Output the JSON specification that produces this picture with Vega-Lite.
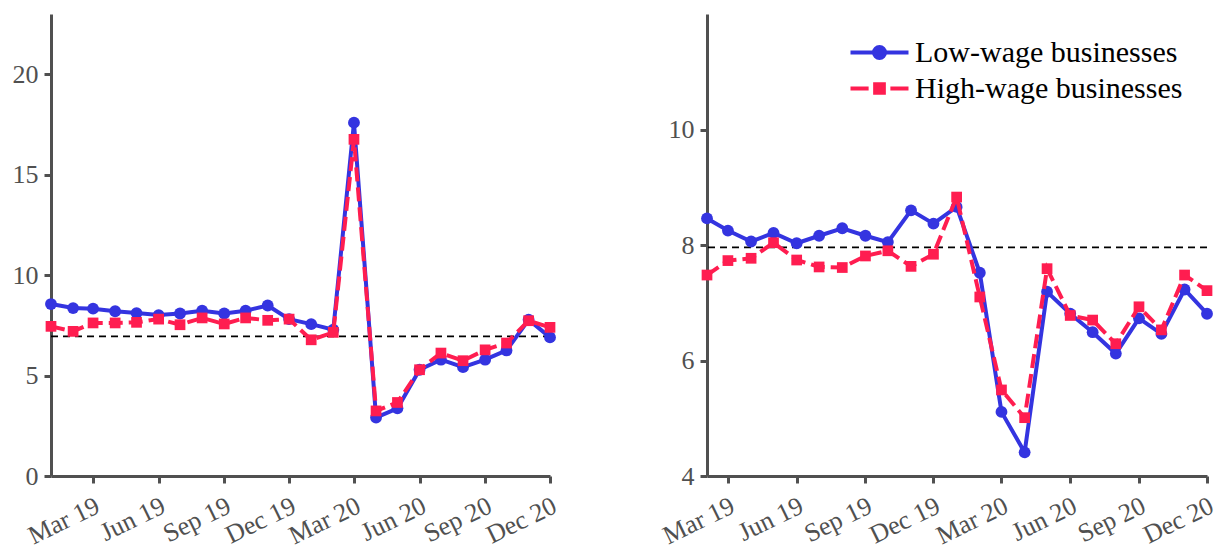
{
  "$schema": "https://vega.github.io/schema/vega-lite/v6.json",
  "background": "white",
  "padding": {"left": 12, "top": 14, "right": 2, "bottom": 0},
  "bounds": "flush",
  "spacing": 157,
  "resolve": {"scale": {"color": "independent"}, "legend": {"color": "independent"}},
  "config": {
    "font": "Liberation Serif",
    "view": {"stroke": null},
    "axis": {
      "domainColor": "#505050", "domainWidth": 3, "tickColor": "#505050", "tickWidth": 3, "tickSize": 7,
      "labelColor": "#505050", "labelFont": "Liberation Serif", "labelFontSize": 26, "grid": false, "title": null,
      "labelPadding": 6, "labelFlush": false, "labelOverlap": false
    },
    "axisY": {"format": "d"}
  },
  "datasets": {
    "left": [
      {"month": "2019-01-01", "series": "Low-wage businesses", "value": 8.56},
      {"month": "2019-02-01", "series": "Low-wage businesses", "value": 8.36},
      {"month": "2019-03-01", "series": "Low-wage businesses", "value": 8.33},
      {"month": "2019-04-01", "series": "Low-wage businesses", "value": 8.2},
      {"month": "2019-05-01", "series": "Low-wage businesses", "value": 8.11},
      {"month": "2019-06-01", "series": "Low-wage businesses", "value": 8.01},
      {"month": "2019-07-01", "series": "Low-wage businesses", "value": 8.09},
      {"month": "2019-08-01", "series": "Low-wage businesses", "value": 8.23},
      {"month": "2019-09-01", "series": "Low-wage businesses", "value": 8.09},
      {"month": "2019-10-01", "series": "Low-wage businesses", "value": 8.23},
      {"month": "2019-11-01", "series": "Low-wage businesses", "value": 8.49},
      {"month": "2019-12-01", "series": "Low-wage businesses", "value": 7.81},
      {"month": "2020-01-01", "series": "Low-wage businesses", "value": 7.56},
      {"month": "2020-02-01", "series": "Low-wage businesses", "value": 7.28},
      {"month": "2020-03-01", "series": "Low-wage businesses", "value": 17.59},
      {"month": "2020-04-01", "series": "Low-wage businesses", "value": 2.91},
      {"month": "2020-05-01", "series": "Low-wage businesses", "value": 3.37},
      {"month": "2020-06-01", "series": "Low-wage businesses", "value": 5.29},
      {"month": "2020-07-01", "series": "Low-wage businesses", "value": 5.79},
      {"month": "2020-08-01", "series": "Low-wage businesses", "value": 5.42},
      {"month": "2020-09-01", "series": "Low-wage businesses", "value": 5.79},
      {"month": "2020-10-01", "series": "Low-wage businesses", "value": 6.25},
      {"month": "2020-11-01", "series": "Low-wage businesses", "value": 7.78},
      {"month": "2020-12-01", "series": "Low-wage businesses", "value": 6.9},
      {"month": "2019-01-01", "series": "High-wage businesses", "value": 7.45},
      {"month": "2019-02-01", "series": "High-wage businesses", "value": 7.2},
      {"month": "2019-03-01", "series": "High-wage businesses", "value": 7.62},
      {"month": "2019-04-01", "series": "High-wage businesses", "value": 7.62},
      {"month": "2019-05-01", "series": "High-wage businesses", "value": 7.65},
      {"month": "2019-06-01", "series": "High-wage businesses", "value": 7.81},
      {"month": "2019-07-01", "series": "High-wage businesses", "value": 7.53},
      {"month": "2019-08-01", "series": "High-wage businesses", "value": 7.87},
      {"month": "2019-09-01", "series": "High-wage businesses", "value": 7.57},
      {"month": "2019-10-01", "series": "High-wage businesses", "value": 7.87},
      {"month": "2019-11-01", "series": "High-wage businesses", "value": 7.75},
      {"month": "2019-12-01", "series": "High-wage businesses", "value": 7.81},
      {"month": "2020-01-01", "series": "High-wage businesses", "value": 6.78},
      {"month": "2020-02-01", "series": "High-wage businesses", "value": 7.15},
      {"month": "2020-03-01", "series": "High-wage businesses", "value": 16.76},
      {"month": "2020-04-01", "series": "High-wage businesses", "value": 3.24},
      {"month": "2020-05-01", "series": "High-wage businesses", "value": 3.66},
      {"month": "2020-06-01", "series": "High-wage businesses", "value": 5.29},
      {"month": "2020-07-01", "series": "High-wage businesses", "value": 6.12},
      {"month": "2020-08-01", "series": "High-wage businesses", "value": 5.74},
      {"month": "2020-09-01", "series": "High-wage businesses", "value": 6.28},
      {"month": "2020-10-01", "series": "High-wage businesses", "value": 6.62},
      {"month": "2020-11-01", "series": "High-wage businesses", "value": 7.73},
      {"month": "2020-12-01", "series": "High-wage businesses", "value": 7.4}
    ],
    "right": [
      {"month": "2019-02-01", "series": "Low-wage businesses", "value": 8.46},
      {"month": "2019-03-01", "series": "Low-wage businesses", "value": 8.25},
      {"month": "2019-04-01", "series": "Low-wage businesses", "value": 8.06},
      {"month": "2019-05-01", "series": "Low-wage businesses", "value": 8.21},
      {"month": "2019-06-01", "series": "Low-wage businesses", "value": 8.03},
      {"month": "2019-07-01", "series": "Low-wage businesses", "value": 8.16},
      {"month": "2019-08-01", "series": "Low-wage businesses", "value": 8.29},
      {"month": "2019-09-01", "series": "Low-wage businesses", "value": 8.16},
      {"month": "2019-10-01", "series": "Low-wage businesses", "value": 8.05},
      {"month": "2019-11-01", "series": "Low-wage businesses", "value": 8.6},
      {"month": "2019-12-01", "series": "Low-wage businesses", "value": 8.37},
      {"month": "2020-01-01", "series": "Low-wage businesses", "value": 8.66},
      {"month": "2020-02-01", "series": "Low-wage businesses", "value": 7.52},
      {"month": "2020-03-01", "series": "Low-wage businesses", "value": 5.11},
      {"month": "2020-04-01", "series": "Low-wage businesses", "value": 4.41},
      {"month": "2020-05-01", "series": "Low-wage businesses", "value": 7.19},
      {"month": "2020-06-01", "series": "Low-wage businesses", "value": 6.81},
      {"month": "2020-07-01", "series": "Low-wage businesses", "value": 6.49},
      {"month": "2020-08-01", "series": "Low-wage businesses", "value": 6.12},
      {"month": "2020-09-01", "series": "Low-wage businesses", "value": 6.73},
      {"month": "2020-10-01", "series": "Low-wage businesses", "value": 6.46},
      {"month": "2020-11-01", "series": "Low-wage businesses", "value": 7.23},
      {"month": "2020-12-01", "series": "Low-wage businesses", "value": 6.81},
      {"month": "2019-02-01", "series": "High-wage businesses", "value": 7.48},
      {"month": "2019-03-01", "series": "High-wage businesses", "value": 7.73},
      {"month": "2019-04-01", "series": "High-wage businesses", "value": 7.77},
      {"month": "2019-05-01", "series": "High-wage businesses", "value": 8.04},
      {"month": "2019-06-01", "series": "High-wage businesses", "value": 7.74},
      {"month": "2019-07-01", "series": "High-wage businesses", "value": 7.62},
      {"month": "2019-08-01", "series": "High-wage businesses", "value": 7.61},
      {"month": "2019-09-01", "series": "High-wage businesses", "value": 7.81},
      {"month": "2019-10-01", "series": "High-wage businesses", "value": 7.9},
      {"month": "2019-11-01", "series": "High-wage businesses", "value": 7.63},
      {"month": "2019-12-01", "series": "High-wage businesses", "value": 7.84},
      {"month": "2020-01-01", "series": "High-wage businesses", "value": 8.83},
      {"month": "2020-02-01", "series": "High-wage businesses", "value": 7.1},
      {"month": "2020-03-01", "series": "High-wage businesses", "value": 5.49},
      {"month": "2020-04-01", "series": "High-wage businesses", "value": 5.01},
      {"month": "2020-05-01", "series": "High-wage businesses", "value": 7.59},
      {"month": "2020-06-01", "series": "High-wage businesses", "value": 6.78},
      {"month": "2020-07-01", "series": "High-wage businesses", "value": 6.7},
      {"month": "2020-08-01", "series": "High-wage businesses", "value": 6.29},
      {"month": "2020-09-01", "series": "High-wage businesses", "value": 6.93},
      {"month": "2020-10-01", "series": "High-wage businesses", "value": 6.53},
      {"month": "2020-11-01", "series": "High-wage businesses", "value": 7.48},
      {"month": "2020-12-01", "series": "High-wage businesses", "value": 7.21}
    ]
  },
  "hconcat": [
    {
      "width": 499,
      "height": 462,
      "layer": [
        {
          "data": {"values": [{"ref": 6.95}]},
          "mark": {"type": "rule", "color": "black", "strokeWidth": 1.8, "strokeDash": [7, 5]},
          "encoding": {"y": {"field": "ref", "type": "quantitative", "scale": {"domain": [0, 23], "nice": false, "zero": false}, "axis": {"values": [0, 5, 10, 15, 20]}}}
        },
        {
          "data": {"name": "left"},
          "transform": [{"filter": "datum.series == 'Low-wage businesses'"}],
          "mark": {"type": "line", "strokeWidth": 4},
          "encoding": {
            "x": {"field": "month", "type": "temporal", "scale": {"type": "utc", "domain": [{"year": 2019, "month": 1, "date": 1, "utc": true}, {"year": 2020, "month": 12, "date": 1, "utc": true}]},
                  "axis": {"format": "%b %y", "labelAngle": -26, "labelAlign": "right", "labelBaseline": "alphabetic", "labelPadding": 28, "labelOffset": 8,
                           "values": [{"year": 2019, "month": 3, "date": 1, "utc": true}, {"year": 2019, "month": 6, "date": 1, "utc": true}, {"year": 2019, "month": 9, "date": 1, "utc": true}, {"year": 2019, "month": 12, "date": 1, "utc": true}, {"year": 2020, "month": 3, "date": 1, "utc": true}, {"year": 2020, "month": 6, "date": 1, "utc": true}, {"year": 2020, "month": 9, "date": 1, "utc": true}, {"year": 2020, "month": 12, "date": 1, "utc": true}]}},
            "y": {"field": "value", "type": "quantitative"},
            "color": {"field": "series", "type": "nominal", "scale": {"domain": ["Low-wage businesses", "High-wage businesses"], "range": ["#3434e0", "#ff1d50"]}, "legend": null}
          }
        },
        {
          "data": {"name": "left"},
          "transform": [{"filter": "datum.series == 'Low-wage businesses'"}],
          "mark": {"type": "point", "shape": "circle", "filled": true, "size": 140, "opacity": 1},
          "encoding": {
            "x": {"field": "month", "type": "temporal"},
            "y": {"field": "value", "type": "quantitative"},
            "color": {"field": "series", "type": "nominal", "legend": null}
          }
        },
        {
          "data": {"name": "left"},
          "transform": [{"filter": "datum.series == 'High-wage businesses'"}],
          "mark": {"type": "line", "strokeWidth": 4, "strokeDash": [14, 6]},
          "encoding": {
            "x": {"field": "month", "type": "temporal"},
            "y": {"field": "value", "type": "quantitative"},
            "color": {"field": "series", "type": "nominal", "legend": null}
          }
        },
        {
          "data": {"name": "left"},
          "transform": [{"filter": "datum.series == 'High-wage businesses'"}],
          "mark": {"type": "point", "shape": "square", "filled": true, "size": 115, "opacity": 1},
          "encoding": {
            "x": {"field": "month", "type": "temporal"},
            "y": {"field": "value", "type": "quantitative"},
            "color": {"field": "series", "type": "nominal", "legend": null}
          }
        }
      ]
    },
    {
      "width": 500,
      "height": 462,
      "layer": [
        {
          "data": {"values": [{"ref": 7.96}]},
          "mark": {"type": "rule", "color": "black", "strokeWidth": 1.8, "strokeDash": [7, 5]},
          "encoding": {"y": {"field": "ref", "type": "quantitative", "scale": {"domain": [4, 12], "nice": false, "zero": false}, "axis": {"values": [4, 6, 8, 10]}}}
        },
        {
          "data": {"name": "right"},
          "transform": [{"filter": "datum.series == 'Low-wage businesses'"}],
          "mark": {"type": "line", "strokeWidth": 4},
          "encoding": {
            "x": {"field": "month", "type": "temporal", "scale": {"type": "utc", "domain": [{"year": 2019, "month": 2, "date": 1, "utc": true}, {"year": 2020, "month": 12, "date": 1, "utc": true}]},
                  "axis": {"format": "%b %y", "labelAngle": -26, "labelAlign": "right", "labelBaseline": "alphabetic", "labelPadding": 28, "labelOffset": 8,
                           "values": [{"year": 2019, "month": 3, "date": 1, "utc": true}, {"year": 2019, "month": 6, "date": 1, "utc": true}, {"year": 2019, "month": 9, "date": 1, "utc": true}, {"year": 2019, "month": 12, "date": 1, "utc": true}, {"year": 2020, "month": 3, "date": 1, "utc": true}, {"year": 2020, "month": 6, "date": 1, "utc": true}, {"year": 2020, "month": 9, "date": 1, "utc": true}, {"year": 2020, "month": 12, "date": 1, "utc": true}]}},
            "y": {"field": "value", "type": "quantitative"},
            "color": {"field": "series", "type": "nominal", "scale": {"domain": ["Low-wage businesses", "High-wage businesses"], "range": ["#3434e0", "#ff1d50"]},
              "legend": {
                "orient": "none", "legendX": 156, "legendY": 22, "title": null,
                "labelFontSize": 30, "labelColor": "black", "labelFont": "Liberation Serif", "labelLimit": 0,
                "symbolSize": 841, "symbolStrokeWidth": 4, "labelOffset": 19, "rowPadding": 4,
                "encode": {
                  "symbols": {
                    "update": {
                      "shape": {"signal": "datum.value === 'Low-wage businesses' ? 'M-2,0L2,0M-0.38,0A0.38,0.38,0,1,1,0.38,0A0.38,0.38,0,1,1,-0.38,0Z' : 'M-2,0L-0.75,0M0.75,0L2,0M-0.3,-0.3L0.3,-0.3L0.3,0.3L-0.3,0.3Z'"},
                      "fill": {"signal": "datum.value === 'Low-wage businesses' ? '#3434e0' : '#ff1d50'"},
                      "stroke": {"signal": "datum.value === 'Low-wage businesses' ? '#3434e0' : '#ff1d50'"},
                      "strokeWidth": {"value": 4},
                      "opacity": {"value": 1}
                    }
                  }
                }
              }
            }
          }
        },
        {
          "data": {"name": "right"},
          "transform": [{"filter": "datum.series == 'Low-wage businesses'"}],
          "mark": {"type": "point", "shape": "circle", "filled": true, "size": 140, "opacity": 1},
          "encoding": {
            "x": {"field": "month", "type": "temporal"},
            "y": {"field": "value", "type": "quantitative"},
            "color": {"field": "series", "type": "nominal"}
          }
        },
        {
          "data": {"name": "right"},
          "transform": [{"filter": "datum.series == 'High-wage businesses'"}],
          "mark": {"type": "line", "strokeWidth": 4, "strokeDash": [14, 6]},
          "encoding": {
            "x": {"field": "month", "type": "temporal"},
            "y": {"field": "value", "type": "quantitative"},
            "color": {"field": "series", "type": "nominal"}
          }
        },
        {
          "data": {"name": "right"},
          "transform": [{"filter": "datum.series == 'High-wage businesses'"}],
          "mark": {"type": "point", "shape": "square", "filled": true, "size": 115, "opacity": 1},
          "encoding": {
            "x": {"field": "month", "type": "temporal"},
            "y": {"field": "value", "type": "quantitative"},
            "color": {"field": "series", "type": "nominal"}
          }
        }
      ]
    }
  ]
}
